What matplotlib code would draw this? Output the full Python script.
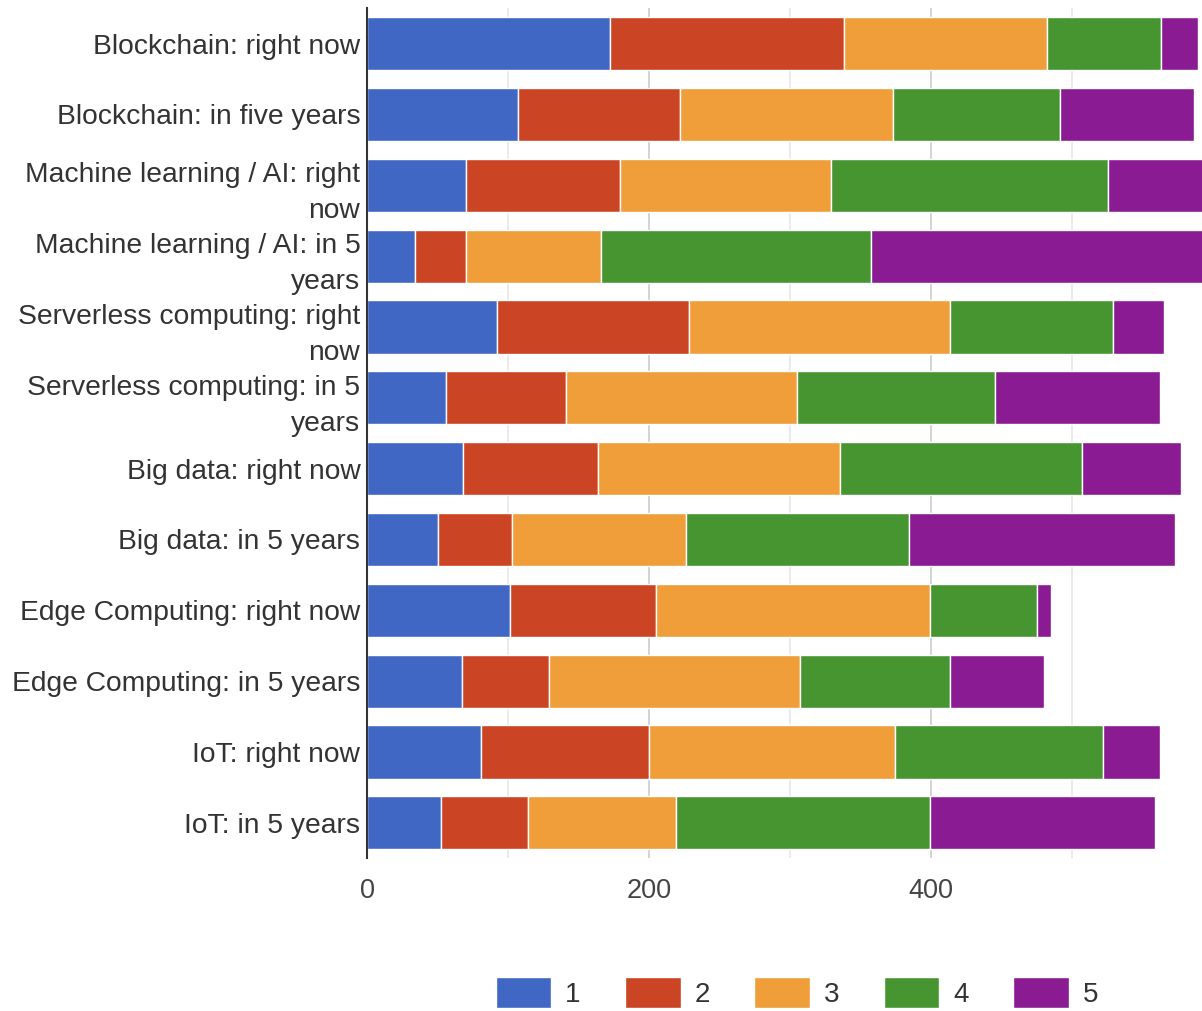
import matplotlib
matplotlib.use("Agg")
import matplotlib.pyplot as plt
import numpy as np

plt.rcParams['font.family'] = ['Liberation Sans', 'DejaVu Sans']

# survey categories, top to bottom
labels = [
    "Blockchain: right now",
    "Blockchain: in five years",
    "Machine learning / AI: right\nnow",
    "Machine learning / AI: in 5\nyears",
    "Serverless computing: right\nnow",
    "Serverless computing: in 5\nyears",
    "Big data: right now",
    "Big data: in 5 years",
    "Edge Computing: right now",
    "Edge Computing: in 5 years",
    "IoT: right now",
    "IoT: in 5 years",
]

# answer counts per rating (1 .. 5)
rating_1 = [172, 107, 70, 34, 92, 56, 68, 50, 101, 67, 81, 52]
rating_2 = [166, 115, 109, 36, 136, 85, 96, 53, 104, 62, 119, 62]
rating_3 = [144, 151, 150, 96, 185, 164, 171, 123, 194, 178, 174, 105]
rating_4 = [81, 118, 196, 191, 116, 140, 172, 158, 76, 106, 148, 180]
rating_5 = [26, 95, 70, 240, 36, 117, 70, 189, 10, 67, 40, 160]

series_names = ["1", "2", "3", "4", "5"]
colors = ["#4167c5", "#cb4525", "#f09e3a", "#469531", "#8b1b93"]

fig = plt.figure(figsize=(12.02, 10.11), dpi=100)
ax = fig.add_axes([0.3055, 0.151, 0.6945, 0.841])

y = np.arange(len(labels))
left = np.zeros(len(labels))
for name, vals, col in zip(series_names,
                           [rating_1, rating_2, rating_3, rating_4, rating_5],
                           colors):
    ax.barh(y, vals, left=left, height=0.75, color=col, edgecolor="white",
            linewidth=1.0, label=name, zorder=3)
    left += np.array(vals)

ax.set_ylim(len(labels) - 0.5, -0.5)
ax.set_xlim(0, 592)

# light grid every 100, labels every 200
ax.set_xticks([0, 200, 400])
ax.set_xticks([100, 300, 500], minor=True)
ax.grid(axis="x", which="major", color="#cccccc", linewidth=1.2, zorder=0)
ax.grid(axis="x", which="minor", color="#e8e8e8", linewidth=1.2, zorder=0)
ax.tick_params(axis="x", which="both", length=0, pad=14, labelsize=19.5,
               labelcolor="#444444")

ax.set_yticks(y)
ax.set_yticklabels(labels, fontsize=20.3, color="#333333", linespacing=1.5)
ax.tick_params(axis="y", length=0, pad=5)

for side in ["top", "right", "bottom"]:
    ax.spines[side].set_visible(False)
ax.spines["left"].set_color("#333333")
ax.spines["left"].set_linewidth(1.5)
ax.spines["left"].set_zorder(4)

fig.legend(loc="upper center", bbox_to_anchor=(0.663, 0.047), ncol=5,
           frameon=False, fontsize=20, handlelength=2.0, handleheight=1.3,
           handletextpad=0.5, columnspacing=1.6, borderpad=0,
           labelcolor="#333333")

fig.savefig("out.png", dpi=100, facecolor="white")
